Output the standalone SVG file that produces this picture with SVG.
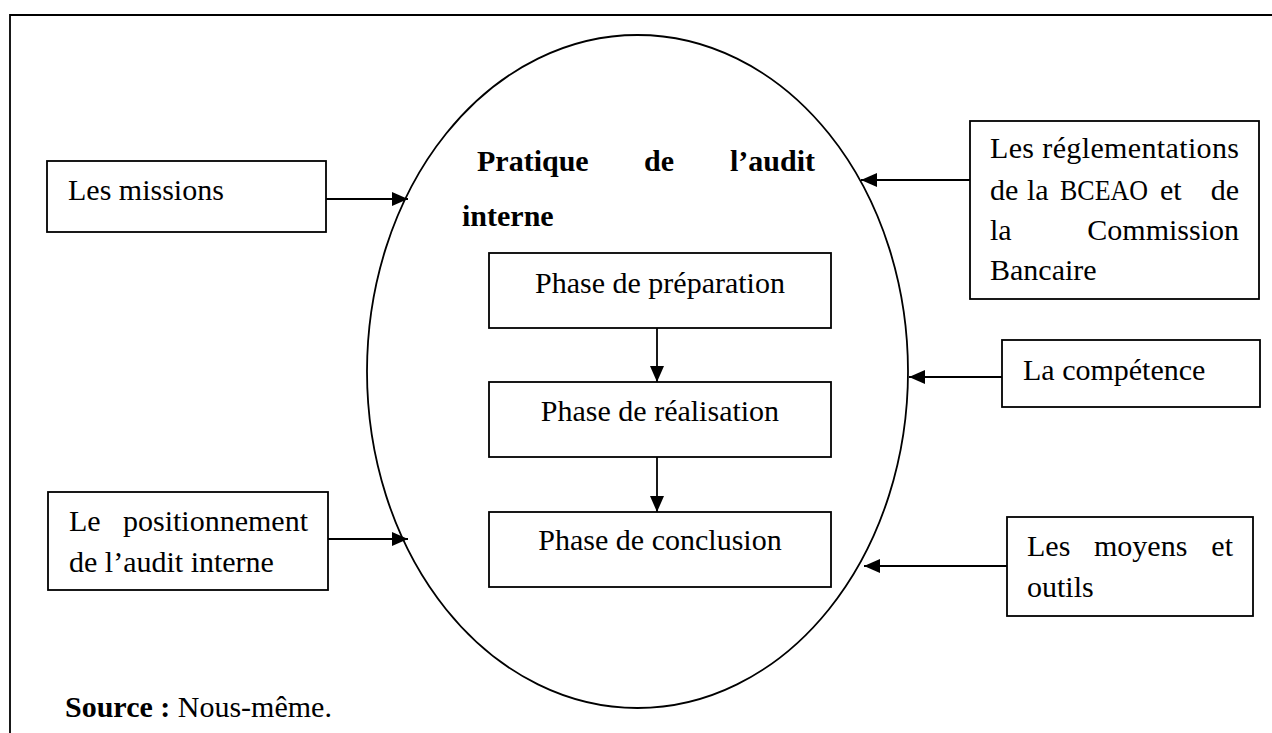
<svg xmlns="http://www.w3.org/2000/svg" width="1272" height="733" viewBox="0 0 1272 733">
<style>
.box{fill:#fff;stroke:#000;stroke-width:1.8}
.ln{fill:none;stroke:#000;stroke-width:1.8}
.t{font-family:"Liberation Serif","Times New Roman",serif;font-size:30px;fill:#000}
.b{font-weight:bold}
</style>
<defs>
<marker id="ah" markerUnits="userSpaceOnUse" markerWidth="16" markerHeight="14" viewBox="0 0 16 14" refX="16" refY="7" orient="auto">
<path d="M0,0 L16,7 L0,14 Z" fill="#000"/>
</marker>
</defs>
<rect width="1272" height="733" fill="#fff"/>
<g id="frame">
<path class="ln" d="M10,733 L10,15 L1272,15"/>
</g>
<g id="ellipse">
<ellipse class="ln" cx="637.5" cy="371.5" rx="270.5" ry="336.5"/>
<text class="t b" x="477" y="171">Pratique</text>
<text class="t b" x="644" y="171">de</text>
<text class="t b" x="815" y="171" text-anchor="end">l’audit</text>
<text class="t b" x="462" y="226">interne</text>
</g>
<g id="missions">
<rect class="box" x="47" y="161" width="279" height="71"/>
<text class="t" x="68" y="200">Les missions</text>
</g>
<g id="positionnement">
<rect class="box" x="48" y="492" width="280" height="98"/>
<text class="t" x="69" y="531">Le</text>
<text class="t" x="308" y="531" text-anchor="end">positionnement</text>
<text class="t" x="69" y="572">de l’audit interne</text>
</g>
<g id="reglementations">
<rect class="box" x="970" y="121" width="289" height="178"/>
<text class="t" x="990" y="158" textLength="249" lengthAdjust="spacing">Les réglementations</text>
<text class="t" x="990" y="200">de</text>
<text class="t" x="1027" y="200">la</text>
<text class="t" x="1060" y="200" textLength="88" lengthAdjust="spacingAndGlyphs">BCEAO</text>
<text class="t" x="1160" y="200">et</text>
<text class="t" x="1239" y="200" text-anchor="end">de</text>
<text class="t" x="990" y="240">la</text>
<text class="t" x="1239" y="240" text-anchor="end">Commission</text>
<text class="t" x="990" y="280">Bancaire</text>
</g>
<g id="competence">
<rect class="box" x="1002" y="340" width="258" height="67"/>
<text class="t" x="1023" y="380">La compétence</text>
</g>
<g id="moyens">
<rect class="box" x="1007" y="517" width="246" height="99"/>
<text class="t" x="1027" y="556">Les</text>
<text class="t" x="1094" y="556">moyens</text>
<text class="t" x="1233" y="556" text-anchor="end">et</text>
<text class="t" x="1027" y="597">outils</text>
</g>
<g id="preparation">
<rect class="box" x="489" y="253" width="342" height="75"/>
<text class="t" x="660" y="293" text-anchor="middle">Phase de préparation</text>
</g>
<g id="realisation">
<rect class="box" x="489" y="382" width="342" height="75"/>
<text class="t" x="660" y="421" text-anchor="middle">Phase de réalisation</text>
</g>
<g id="conclusion">
<rect class="box" x="489" y="512" width="342" height="75"/>
<text class="t" x="660" y="550" text-anchor="middle">Phase de conclusion</text>
</g>
<g id="connectors">
<line class="ln" x1="326" y1="199" x2="408" y2="199" marker-end="url(#ah)"/>
<line class="ln" x1="328" y1="539" x2="408" y2="539" marker-end="url(#ah)"/>
<line class="ln" x1="970" y1="180" x2="861" y2="180" marker-end="url(#ah)"/>
<line class="ln" x1="1002" y1="377" x2="909" y2="377" marker-end="url(#ah)"/>
<line class="ln" x1="1007" y1="566" x2="864" y2="566" marker-end="url(#ah)"/>
<line class="ln" x1="657" y1="328" x2="657" y2="382" marker-end="url(#ah)"/>
<line class="ln" x1="657" y1="457" x2="657" y2="512" marker-end="url(#ah)"/>
</g>
<g id="source">
<text class="t" x="65" y="717"><tspan class="b">Source :</tspan> Nous-même.</text>
</g>
</svg>
